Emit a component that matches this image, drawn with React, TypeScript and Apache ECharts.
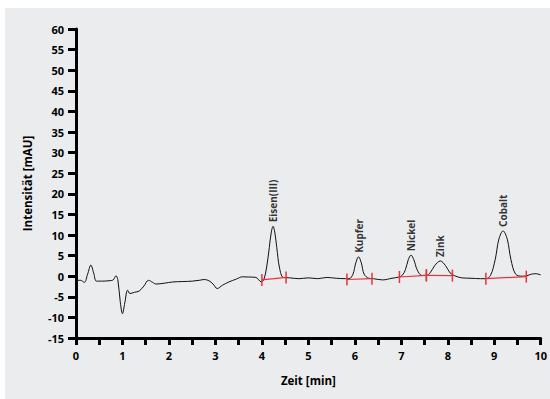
import React, { useEffect, useRef } from "react";
import * as echarts from "echarts";

// Chromatogram trace: [time (min), intensity (mAU)]
const traceTime = [
  0, 0.1, 0.18, 0.25, 0.32, 0.38, 0.44, 0.55, 0.71, 0.8, 0.86, 0.9, 0.95, 1.0, 1.05, 1.11, 1.16, 1.26, 1.36, 1.46, 1.56, 1.65, 1.72, 1.9, 2.08, 2.3, 2.5, 2.65, 2.76, 2.86, 2.95, 3.04, 3.15, 3.29, 3.45, 3.58, 3.72, 3.87, 3.99,
  4.04, 4.1, 4.16, 4.2, 4.24, 4.28, 4.32, 4.38, 4.46, 4.6, 4.8, 5.0, 5.2, 5.4, 5.6, 5.8,
  5.88, 5.96, 6.02, 6.08, 6.14, 6.2, 6.3, 6.4, 6.6, 6.8, 6.95,
  7.02, 7.09, 7.15, 7.21, 7.27, 7.34, 7.44, 7.54, 7.62, 7.72, 7.84, 7.95, 8.05, 8.15, 8.3, 8.5, 8.7, 8.82,
  8.92, 9.02, 9.1, 9.19, 9.28, 9.36, 9.46, 9.6, 9.7, 9.8, 9.9, 10,
];
const traceValue = [
  -1.0, -1.0, -1.5, 0.5, 2.7, 0.8, -1.2, -1.2, -1.1, -0.9, 0.1, -0.8, -6.0, -9.1, -6.5, -3.4, -4.2, -3.9, -3.6, -2.4, -1.0, -1.5, -1.9, -1.7, -1.4, -1.3, -1.2, -1.0, -0.8, -1.1, -1.9, -3.0, -2.2, -1.4, -0.7, -0.15, -0.2, -0.3, -1.4,
  -0.9, 2.0, 7.0, 10.5, 12.1, 10.5, 7.0, 2.0, -0.3, -0.4, -0.6, -0.4, -0.6, -0.3, -0.5, -0.6,
  -0.6, 0.5, 3.2, 4.7, 3.2, 0.5, -0.5, -0.6, -0.9, -0.5, -0.2,
  0.2, 1.6, 4.0, 5.1, 4.0, 1.6, 0.2, 0.2, 0.8, 2.6, 3.7, 2.6, 0.8, 0.1, -0.4, -0.5, -0.6, -0.6,
  0.2, 4.0, 9.0, 11.0, 9.0, 4.0, 0.5, 0.0, 0.1, 0.5, 0.6, 0.3,
];

// Peak labels
const peakNames = ["Eisen(III)", "Kupfer", "Nickel", "Zink", "Cobalt"];
const peakTimes = [4.24, 6.08, 7.21, 7.84, 9.19];
const peakValues = [12.1, 4.7, 5.1, 3.7, 11.0];

// Integration baselines (red): start/end time and value
const baseStartT = [4.0, 5.83, 6.96, 7.54, 8.82];
const baseStartV = [-0.9, -0.8, -0.2, 0.2, -0.6];
const baseEndT = [4.52, 6.37, 7.54, 8.1, 9.69];
const baseEndV = [-0.3, -0.6, 0.2, 0.15, -0.1];

const FONT = "'Open Sans', 'DejaVu Sans', sans-serif";

export default function App() {
  const ref = useRef<HTMLDivElement>(null);

  useEffect(() => {
    document.body.style.margin = "0";
    if (!ref.current) return;
    const chart = echarts.init(ref.current, undefined, { renderer: "svg" });

    const baselineSeries = baseStartT.map((t, i) => ({
      type: "line",
      data: [
        [t, baseStartV[i]],
        [baseEndT[i], baseEndV[i]],
      ],
      lineStyle: { color: "#e8333b", width: 1.2 },
      itemStyle: { color: "#e8333b" },
      symbol: "rect",
      symbolSize: [1.5, 12],
      showSymbol: true,
      z: 3,
    }));

    chart.setOption({
      animation: false,
      backgroundColor: "#ebeced",
      grid: { left: 71, right: 8, top: 21, bottom: 61 },
      xAxis: {
        type: "value",
        min: 0,
        max: 10,
        interval: 0.5,
        name: "Zeit [min]",
        nameLocation: "middle",
        nameGap: 36,
        nameTextStyle: { fontFamily: FONT, fontWeight: "bold", fontSize: 11.5, color: "#000" },
        axisLine: { onZero: false, lineStyle: { color: "#000", width: 3 } },
        axisTick: { inside: false, length: 7, lineStyle: { color: "#000", width: 3 } },
        splitLine: { show: false },
        axisLabel: {
          margin: 12,
          fontFamily: FONT,
          fontWeight: "bold",
          fontSize: 11,
          color: "#000",
          formatter: (v: number) => (Number.isInteger(v) ? String(v) : ""),
        },
      },
      yAxis: {
        type: "value",
        min: -15,
        max: 60,
        interval: 5,
        name: "Intensität [mAU]",
        nameLocation: "middle",
        nameGap: 43,
        nameTextStyle: { fontFamily: FONT, fontWeight: "bold", fontSize: 11.5, color: "#000" },
        axisLine: { show: true, lineStyle: { color: "#000", width: 3 } },
        axisTick: { show: true, length: 8, lineStyle: { color: "#000", width: 3 } },
        splitLine: { show: false },
        axisLabel: {
          margin: 12,
          fontFamily: FONT,
          fontWeight: "bold",
          fontSize: 11,
          color: "#000",
        },
      },
      series: [
        {
          type: "line",
          data: traceTime.map((t, i) => [t, traceValue[i]]),
          smooth: 0.35,
          showSymbol: false,
          lineStyle: { color: "#111", width: 1 },
          z: 2,
        },
        ...baselineSeries,
        {
          type: "scatter",
          data: peakTimes.map((t, i) => ({ value: [t, peakValues[i]], name: peakNames[i] })),
          symbolSize: 0,
          label: {
            show: true,
            position: "top",
            distance: 4,
            rotate: 90,
            align: "left",
            verticalAlign: "middle",
            formatter: (p: any) => p.name,
            fontFamily: FONT,
            fontWeight: "bold",
            fontSize: 10,
            color: "#000",
          },
          z: 4,
        },
      ],
    });

    return () => chart.dispose();
  }, []);

  return (
    <div style={{ position: "relative", width: 550, height: 399, background: "#fff" }}>
      <div ref={ref} style={{ position: "absolute", left: 5, top: 8, width: 545, height: 391 }} />
    </div>
  );
}
